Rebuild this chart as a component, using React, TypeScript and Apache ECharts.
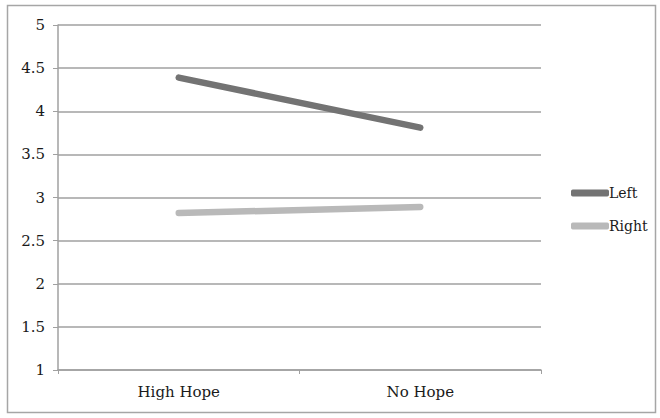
import React, { useEffect, useRef } from "react";
import * as echarts from "echarts";

const categories = ["High Hope", "No Hope"];
const leftValues = [4.39, 3.81];
const rightValues = [2.82, 2.89];
const seriesNames = ["Left", "Right"];
const yTicks = ["1", "1.5", "2", "2.5", "3", "3.5", "4", "4.5", "5"];

const FONT = "'DejaVu Serif', 'Liberation Serif', serif";

export default function App() {
  const ref = useRef<HTMLDivElement>(null);
  useEffect(() => {
    if (!ref.current) return;
    const chart = echarts.init(ref.current, undefined, { renderer: "svg" });
    chart.setOption({
      animation: false,
      backgroundColor: "#ffffff",
      graphic: [
        {
          type: "rect",
          shape: { x: 7.5, y: 5.5, width: 648, height: 407 },
          style: { fill: "none", stroke: "#a6a6a6", lineWidth: 1.5 },
          silent: true,
        },
      ],
      grid: { left: 58, right: 119, top: 25, bottom: 48, containLabel: false },
      legend: {
        orient: "vertical",
        left: 566,
        top: 181,
        itemWidth: 38,
        itemHeight: 7,
        itemGap: 19,
        icon: "roundRect",
        textStyle: { fontFamily: FONT, fontSize: 14, color: "#1a1a1a", padding: [0, 0, 0, -5] },
        data: seriesNames,
      },
      xAxis: {
        type: "category",
        data: categories,
        boundaryGap: true,
        axisLine: { lineStyle: { color: "#a0a0a0", width: 1.5 } },
        axisTick: { show: true, length: 4, lineStyle: { color: "#a0a0a0" } },
        axisLabel: { fontFamily: FONT, fontSize: 15, color: "#1a1a1a", margin: 14 },
      },
      yAxis: {
        type: "value",
        min: 1,
        max: 5,
        interval: 0.5,
        axisLine: { show: true, lineStyle: { color: "#a0a0a0", width: 1.5 } },
        axisTick: { show: true, length: 5, inside: false, lineStyle: { color: "#a0a0a0" } },
        splitLine: { lineStyle: { color: "#a0a0a0", width: 1.5 } },
        axisLabel: {
          fontFamily: FONT,
          fontSize: 15,
          color: "#1a1a1a",
          margin: 13,
          formatter: (v: number) => yTicks[Math.round((v - 1) * 2)] ?? String(v),
        },
      },
      series: [
        {
          name: seriesNames[0],
          type: "line",
          data: leftValues,
          symbol: "none",
          color: "#737373",
          lineStyle: { width: 6.5, color: "#737373", cap: "round" },
        },
        {
          name: seriesNames[1],
          type: "line",
          data: rightValues,
          symbol: "none",
          color: "#b9b9b9",
          lineStyle: { width: 6.5, color: "#b9b9b9", cap: "round" },
        },
      ],
    });
    return () => chart.dispose();
  }, []);
  return (
    <div
      ref={ref}
      style={{ position: "absolute", left: 0, top: 0, width: 660, height: 418 }}
    />
  );
}
